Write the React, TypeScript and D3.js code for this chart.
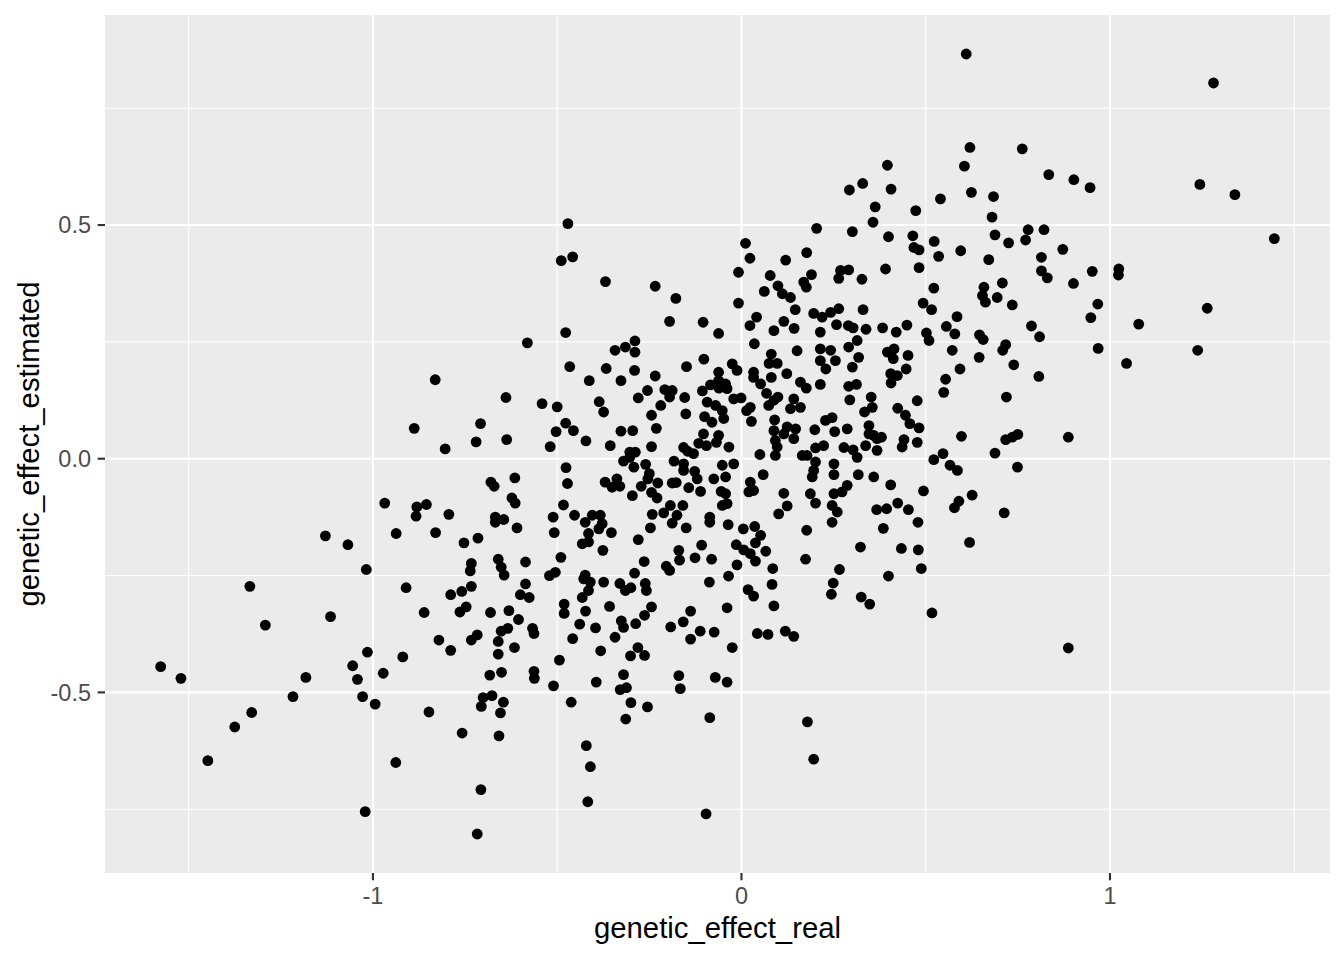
import React from 'react';
import * as d3 from 'd3';

// [genetic_effect_real, genetic_effect_estimated]
const obsLeft: [number, number][] = [
[-0.888,0.065],[-0.968,-0.095],[-0.881,-0.103],[-0.883,-0.123],[-0.937,-0.160],[-1.129,-0.165],[-1.068,-0.184],[-1.018,-0.237],[-1.334,-0.273],[-0.910,-0.276],[-1.292,-0.356],[-1.115,-0.338],[-1.015,-0.414],[-0.919,-0.424],[-1.576,-0.445],[-1.521,-0.470],[-1.182,-0.468],[-1.055,-0.443],[-1.042,-0.472],[-0.972,-0.459],[-1.217,-0.509],[-1.028,-0.509],[-0.994,-0.525],[-1.329,-0.543],[-1.375,-0.574],[-1.448,-0.646],[-0.938,-0.650],[-1.021,-0.755]
];
const obsMidLeftUpper: [number, number][] = [
[-0.471,0.503],[-0.489,0.424],[-0.458,0.432],[-0.477,0.270],[-0.581,0.248],[-0.466,0.197],[-0.831,0.169],[-0.639,0.131],[-0.541,0.118],[-0.500,0.111],[-0.708,0.075],[-0.477,0.076],[-0.503,0.058],[-0.456,0.060],[-0.720,0.036],[-0.637,0.041],[-0.804,0.021],[-0.519,0.026],[-0.476,-0.019],[-0.615,-0.041],[-0.680,-0.050],[-0.671,-0.059],[-0.472,-0.053],[-0.623,-0.084],[-0.614,-0.095],[-0.855,-0.098],[-0.483,-0.099]
];
const obsMidLeftLower: [number, number][] = [
[-0.794,-0.119],[-0.668,-0.125],[-0.645,-0.130],[-0.668,-0.136],[-0.609,-0.148],[-0.511,-0.125],[-0.453,-0.121],[-0.830,-0.158],[-0.508,-0.158],[-0.753,-0.180],[-0.715,-0.170],[-0.733,-0.224],[-0.736,-0.240],[-0.660,-0.215],[-0.652,-0.232],[-0.644,-0.249],[-0.586,-0.221],[-0.490,-0.211],[-0.521,-0.250],[-0.505,-0.243],[-0.733,-0.273],[-0.759,-0.284],[-0.789,-0.291],[-0.586,-0.268],[-0.600,-0.291],[-0.576,-0.297],[-0.861,-0.329],[-0.747,-0.317],[-0.764,-0.328],[-0.681,-0.329],[-0.631,-0.325],[-0.605,-0.344],[-0.481,-0.311],[-0.481,-0.331],[-0.652,-0.369],[-0.634,-0.363],[-0.567,-0.363],[-0.563,-0.374],[-0.717,-0.377],[-0.733,-0.388],[-0.821,-0.388],[-0.789,-0.410],[-0.660,-0.391],[-0.616,-0.404],[-0.660,-0.418],[-0.458,-0.385],[-0.494,-0.431],[-0.683,-0.463],[-0.651,-0.457],[-0.563,-0.455],[-0.562,-0.470],[-0.510,-0.486],[-0.701,-0.511],[-0.677,-0.507],[-0.706,-0.530],[-0.646,-0.521],[-0.654,-0.544],[-0.462,-0.521],[-0.848,-0.542],[-0.758,-0.587],[-0.658,-0.593],[-0.707,-0.708],[-0.717,-0.803]
];
const obsCenterLeftUpper: [number, number][] = [
[-0.369,0.379],[-0.234,0.369],[-0.178,0.343],[-0.195,0.294],[-0.104,0.292],[-0.062,0.268],[-0.343,0.232],[-0.315,0.239],[-0.289,0.252],[-0.289,0.228],[-0.367,0.193],[-0.290,0.189],[-0.413,0.167],[-0.327,0.167],[-0.234,0.177],[-0.149,0.197],[-0.102,0.213],[-0.062,0.185],[-0.255,0.146],[-0.208,0.148],[-0.188,0.146],[-0.195,0.132],[-0.154,0.131],[-0.280,0.130],[-0.106,0.145],[-0.084,0.158],[-0.062,0.167],[-0.061,0.151],[-0.093,0.121],[-0.070,0.114],[-0.052,0.103],[-0.048,0.086],[-0.100,0.090],[-0.080,0.078],[-0.386,0.122],[-0.374,0.100],[-0.219,0.114],[-0.244,0.093],[-0.151,0.096],[-0.422,0.038],[-0.327,0.059],[-0.295,0.060],[-0.231,0.065],[-0.356,0.028],[-0.244,0.026],[-0.103,0.053],[-0.116,0.033],[-0.095,0.028],[-0.062,0.050],[-0.068,0.035],[-0.157,0.024],[-0.146,0.016],[-0.130,0.011],[-0.303,0.014],[-0.288,0.014],[-0.320,-0.005],[-0.292,-0.018],[-0.303,0.003],[-0.260,-0.012],[-0.250,-0.032],[-0.254,-0.043],[-0.183,-0.005],[-0.157,-0.011],[-0.157,-0.025],[-0.052,-0.014],[-0.127,-0.027],[-0.120,-0.043],[-0.075,-0.043],[-0.370,-0.050],[-0.338,-0.043],[-0.351,-0.061],[-0.330,-0.059],[-0.272,-0.059],[-0.227,-0.052],[-0.244,-0.072],[-0.229,-0.084],[-0.296,-0.079],[-0.177,-0.051],[-0.188,-0.052],[-0.143,-0.062],[-0.111,-0.070],[-0.055,-0.070],[-0.052,-0.100],[-0.193,-0.100],[-0.159,-0.100]
];
const obsCenterLeftLower: [number, number][] = [
[-0.424,-0.136],[-0.405,-0.121],[-0.383,-0.121],[-0.378,-0.139],[-0.387,-0.150],[-0.415,-0.160],[-0.432,-0.182],[-0.415,-0.178],[-0.353,-0.158],[-0.376,-0.196],[-0.242,-0.119],[-0.211,-0.116],[-0.175,-0.121],[-0.188,-0.138],[-0.247,-0.148],[-0.150,-0.148],[-0.086,-0.125],[-0.086,-0.136],[-0.280,-0.173],[-0.170,-0.196],[-0.168,-0.217],[-0.108,-0.185],[-0.126,-0.212],[-0.081,-0.215],[-0.264,-0.220],[-0.204,-0.230],[-0.195,-0.239],[-0.290,-0.245],[-0.424,-0.249],[-0.410,-0.264],[-0.415,-0.282],[-0.428,-0.257],[-0.374,-0.264],[-0.330,-0.267],[-0.315,-0.282],[-0.300,-0.276],[-0.261,-0.267],[-0.258,-0.282],[-0.087,-0.264],[-0.432,-0.297],[-0.358,-0.316],[-0.244,-0.317],[-0.423,-0.326],[-0.263,-0.335],[-0.287,-0.353],[-0.326,-0.347],[-0.320,-0.361],[-0.439,-0.354],[-0.396,-0.362],[-0.343,-0.382],[-0.192,-0.360],[-0.158,-0.349],[-0.138,-0.326],[-0.138,-0.386],[-0.112,-0.369],[-0.074,-0.371],[-0.382,-0.411],[-0.281,-0.404],[-0.301,-0.422],[-0.263,-0.421],[-0.320,-0.462],[-0.394,-0.478],[-0.329,-0.494],[-0.312,-0.490],[-0.170,-0.464],[-0.166,-0.492],[-0.071,-0.468],[-0.300,-0.522],[-0.255,-0.531],[-0.314,-0.557],[-0.086,-0.554],[-0.421,-0.614],[-0.410,-0.659],[-0.417,-0.734],[-0.096,-0.760]
];
const obsCenterRightUpper: [number, number][] = [
[0.293,0.575],[0.329,0.589],[0.363,0.539],[0.357,0.506],[0.204,0.493],[0.301,0.486],[0.011,0.461],[0.023,0.429],[0.120,0.425],[0.177,0.441],[-0.008,0.399],[0.078,0.392],[0.190,0.394],[0.169,0.378],[0.176,0.367],[0.269,0.403],[0.291,0.404],[0.264,0.386],[0.327,0.384],[0.099,0.370],[0.111,0.353],[0.133,0.345],[0.062,0.358],[-0.008,0.333],[0.146,0.319],[0.196,0.311],[0.219,0.303],[0.242,0.313],[0.264,0.321],[0.330,0.319],[0.041,0.303],[0.023,0.285],[0.115,0.294],[0.088,0.274],[0.143,0.279],[0.214,0.271],[0.258,0.287],[0.290,0.285],[0.303,0.280],[0.338,0.277],[0.035,0.246],[0.081,0.224],[0.075,0.204],[0.097,0.204],[0.151,0.231],[0.214,0.235],[0.242,0.232],[0.214,0.210],[0.255,0.210],[0.291,0.239],[0.314,0.253],[0.318,0.217],[0.301,0.196],[0.229,0.192],[-0.025,0.203],[-0.012,0.189],[0.033,0.185],[0.033,0.174],[0.081,0.174],[0.123,0.182],[0.160,0.164],[0.176,0.151],[0.214,0.159],[0.291,0.155],[0.312,0.159],[0.052,0.160],[0.068,0.140],[0.088,0.125],[0.099,0.132],[0.074,0.114],[-0.043,0.160],[-0.039,0.150],[-0.021,0.128],[-0.001,0.130],[0.142,0.128],[0.133,0.107],[0.160,0.110],[0.294,0.126],[0.352,0.132],[0.355,0.110],[0.334,0.100],[0.024,0.110],[0.014,0.103],[0.027,0.080],[0.090,0.083],[0.124,0.068],[0.147,0.064],[0.142,0.043],[0.115,0.053],[0.088,0.060],[0.092,0.039],[0.097,0.025],[0.092,0.007],[0.199,0.062],[0.228,0.082],[0.246,0.088],[0.253,0.058],[0.287,0.064],[0.346,0.071],[0.346,0.053],[0.359,0.050],[0.368,0.043],[0.337,0.028],[-0.034,0.025],[0.050,0.009],[0.165,0.007],[0.178,0.007],[0.201,0.023],[0.223,0.028],[0.278,0.024],[0.303,0.019],[0.314,0.003],[-0.021,-0.011],[0.201,-0.007],[0.196,-0.025],[0.192,-0.039],[0.251,-0.011],[0.251,-0.034],[0.317,-0.034],[0.359,-0.039],[-0.043,-0.039],[0.059,-0.034],[0.024,-0.050],[0.033,-0.068],[0.020,-0.071],[0.115,-0.074],[0.187,-0.075],[0.251,-0.075],[0.287,-0.057],[0.273,-0.071],[-0.043,-0.075]
];
const obsCenterRightLower: [number, number][] = [
[-0.039,-0.096],[0.201,-0.095],[0.246,-0.100],[0.260,-0.114],[0.246,-0.136],[0.124,-0.101],[0.101,-0.118],[-0.036,-0.141],[0.005,-0.150],[0.036,-0.145],[0.052,-0.164],[0.038,-0.180],[0.177,-0.153],[0.323,-0.189],[-0.014,-0.184],[0.006,-0.195],[0.024,-0.203],[0.038,-0.219],[0.066,-0.198],[0.174,-0.215],[-0.012,-0.227],[-0.035,-0.251],[0.085,-0.235],[0.266,-0.237],[0.083,-0.269],[0.249,-0.266],[0.244,-0.290],[0.018,-0.280],[0.033,-0.294],[0.325,-0.296],[0.348,-0.311],[0.088,-0.315],[-0.039,-0.319],[0.043,-0.374],[0.072,-0.376],[0.119,-0.369],[0.142,-0.380],[-0.025,-0.404],[-0.039,-0.478],[0.179,-0.563],[0.196,-0.643]
];
const obsRightUpper: [number, number][] = [
[0.610,0.866],[0.620,0.666],[0.762,0.663],[0.396,0.628],[0.605,0.626],[0.406,0.577],[0.473,0.531],[0.540,0.556],[0.624,0.570],[0.684,0.561],[0.680,0.517],[0.399,0.475],[0.465,0.477],[0.468,0.452],[0.482,0.447],[0.523,0.465],[0.535,0.433],[0.595,0.445],[0.688,0.479],[0.725,0.462],[0.771,0.468],[0.778,0.490],[0.671,0.426],[0.391,0.406],[0.482,0.409],[0.522,0.365],[0.658,0.367],[0.654,0.349],[0.662,0.335],[0.694,0.345],[0.708,0.376],[0.735,0.329],[0.493,0.333],[0.516,0.319],[0.585,0.304],[0.383,0.280],[0.420,0.271],[0.449,0.286],[0.502,0.269],[0.509,0.253],[0.556,0.283],[0.579,0.267],[0.646,0.265],[0.656,0.255],[0.787,0.284],[0.717,0.244],[0.709,0.232],[0.396,0.228],[0.414,0.235],[0.412,0.214],[0.452,0.221],[0.572,0.232],[0.645,0.217],[0.739,0.201],[0.405,0.182],[0.423,0.178],[0.406,0.162],[0.447,0.192],[0.593,0.192],[0.554,0.170],[0.549,0.142],[0.477,0.124],[0.424,0.108],[0.445,0.093],[0.457,0.075],[0.719,0.132],[0.380,0.046],[0.482,0.066],[0.441,0.041],[0.436,0.025],[0.477,0.035],[0.368,0.018],[0.597,0.048],[0.717,0.041],[0.735,0.046],[0.750,0.052],[0.688,0.012],[0.522,-0.002],[0.547,0.011]
];
const obsRightLower: [number, number][] = [
[0.566,-0.014],[0.586,-0.025],[0.749,-0.018],[0.405,-0.056],[0.494,-0.069],[0.626,-0.078],[0.590,-0.091],[0.578,-0.105],[0.367,-0.109],[0.394,-0.107],[0.424,-0.095],[0.453,-0.109],[0.479,-0.136],[0.385,-0.149],[0.713,-0.116],[0.619,-0.179],[0.434,-0.192],[0.480,-0.195],[0.488,-0.235],[0.399,-0.251],[0.517,-0.330]
];
const obsFarRight: [number, number][] = [
[1.281,0.804],[0.834,0.608],[0.902,0.597],[0.946,0.580],[1.244,0.587],[1.339,0.565],[0.821,0.490],[1.446,0.471],[0.872,0.448],[0.814,0.431],[0.814,0.402],[0.830,0.387],[0.952,0.401],[1.024,0.406],[1.023,0.393],[0.901,0.375],[0.967,0.331],[0.948,0.302],[1.264,0.322],[1.078,0.288],[0.809,0.261],[0.968,0.236],[1.238,0.232],[1.045,0.204],[0.807,0.176],[0.887,0.046],[0.887,-0.405]
];

const xMajorTicks = [-1, 0, 1];
const xMinorTicks = [-1.5, -0.5, 0.5, 1.5];
const yMajorTicks = [-0.5, 0, 0.5];
const yMinorTicks = [-0.75, -0.25, 0.25, 0.75];
const xTitle = 'genetic_effect_real';
const yTitle = 'genetic_effect_estimated';

const W = 1344, H = 960;
const panel = { left: 105, right: 1330, top: 15, bottom: 873 };
const FONT = '"Liberation Sans", Arial, Helvetica, sans-serif';
const TICK_FS = 23.5;
const TITLE_FS = 29.3;
const TICK_LEN = 7.3;

function expand(ext: [number, number], f = 0.05): [number, number] {
  const r = ext[1] - ext[0];
  return [ext[0] - r * f, ext[1] + r * f];
}

export default function App() {
  const data = [
    ...obsLeft, ...obsMidLeftUpper, ...obsMidLeftLower, ...obsCenterLeftUpper,
    ...obsCenterLeftLower, ...obsCenterRightUpper, ...obsCenterRightLower,
    ...obsRightUpper, ...obsRightLower, ...obsFarRight,
  ];
  const xExt = d3.extent(data, d => d[0]) as [number, number];
  const yExt = d3.extent(data, d => d[1]) as [number, number];
  const x = d3.scaleLinear().domain(expand(xExt)).range([panel.left, panel.right]);
  const y = d3.scaleLinear().domain(expand(yExt)).range([panel.bottom, panel.top]);
  const fmtY = (v: number) => (v === 0 ? '0.0' : d3.format('.1f')(v).replace('−', '-'));
  const fmtX = (v: number) => String(v);

  return (
    <svg width={W} height={H} style={{ position: 'absolute', left: 0, top: 0, background: '#fff' }}>
      <rect x={0} y={0} width={W} height={H} fill="#fff" />
      <rect x={panel.left} y={panel.top} width={panel.right - panel.left} height={panel.bottom - panel.top} fill="#EBEBEB" />
      {xMinorTicks.map(t => (
        <line key={'xm' + t} x1={x(t)} x2={x(t)} y1={panel.top} y2={panel.bottom} stroke="#fff" strokeWidth={1.07} />
      ))}
      {yMinorTicks.map(t => (
        <line key={'ym' + t} y1={y(t)} y2={y(t)} x1={panel.left} x2={panel.right} stroke="#fff" strokeWidth={1.07} />
      ))}
      {xMajorTicks.map(t => (
        <line key={'xM' + t} x1={x(t)} x2={x(t)} y1={panel.top} y2={panel.bottom} stroke="#fff" strokeWidth={2.13} />
      ))}
      {yMajorTicks.map(t => (
        <line key={'yM' + t} y1={y(t)} y2={y(t)} x1={panel.left} x2={panel.right} stroke="#fff" strokeWidth={2.13} />
      ))}
      {data.map((d, i) => (
        <circle key={i} cx={x(d[0])} cy={y(d[1])} r={5.4} fill="#000" />
      ))}
      {xMajorTicks.map(t => (
        <g key={'xt' + t}>
          <line x1={x(t)} x2={x(t)} y1={panel.bottom} y2={panel.bottom + TICK_LEN} stroke="#333" strokeWidth={2.13} />
          <text x={x(t)} y={903.5} textAnchor="middle" fontFamily={FONT} fontSize={TICK_FS} fill="#4D4D4D">{fmtX(t)}</text>
        </g>
      ))}
      {yMajorTicks.map(t => (
        <g key={'yt' + t}>
          <line x1={panel.left - TICK_LEN} x2={panel.left} y1={y(t)} y2={y(t)} stroke="#333" strokeWidth={2.13} />
          <text x={91} y={y(t) + 8.4} textAnchor="end" fontFamily={FONT} fontSize={TICK_FS} fill="#4D4D4D">{fmtY(t)}</text>
        </g>
      ))}
      <text x={(panel.left + panel.right) / 2} y={938} textAnchor="middle" fontFamily={FONT} fontSize={TITLE_FS} fill="#000">{xTitle}</text>
      <text transform={`translate(38.5,${(panel.top + panel.bottom) / 2}) rotate(-90)`} textAnchor="middle" fontFamily={FONT} fontSize={TITLE_FS} fill="#000">{yTitle}</text>
    </svg>
  );
}
